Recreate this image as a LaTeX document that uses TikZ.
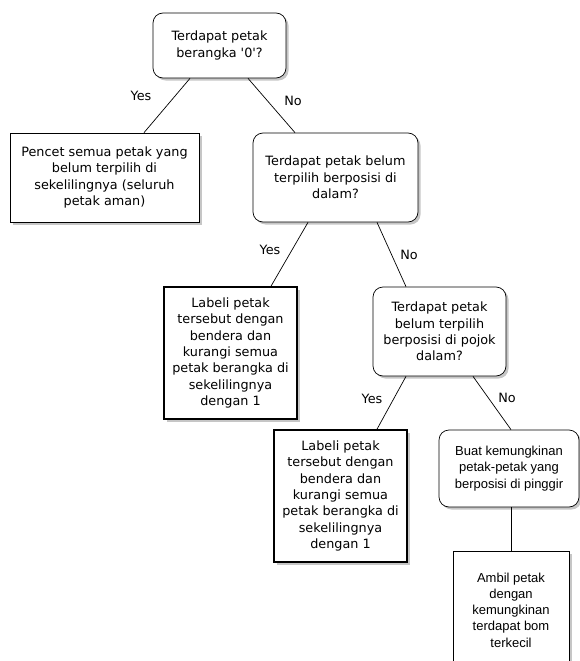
\documentclass[tikz,border=0pt]{standalone}
\usepackage{fontspec}
\setmainfont{DejaVu Sans}
\newfontfamily\arialfont{Liberation Sans}
\usetikzlibrary{calc,shadows}

\tikzset{
  shade box/.style={drop shadow={opacity=0.45,shadow xshift=2.5pt,shadow yshift=-2.5pt}},
  choice/.style={draw,rounded corners=10pt,fill=white,shade box,align=center,inner sep=2pt},
  action/.style={draw,fill=white,shade box,align=center,inner sep=2pt},
  mark box/.style={action,line width=1.6pt},
  arial text/.style={font=\arialfont\fontsize{13}{16.3}\selectfont}
}

\begin{document}
\begin{tikzpicture}[x=1pt,y=-1pt,font=\fontsize{12.8}{16.3}\selectfont,line width=0.7pt]
\useasboundingbox (0,0) rectangle (580,661);
\clip (0,0) rectangle (580,661);

% decisions
\node[choice,minimum width=133pt,minimum height=65pt] (zero) at (219.5,45.5) {Terdapat petak\\berangka \textquotesingle 0\textquotesingle ?};
\node[choice,minimum width=165pt,minimum height=89pt] (inner) at (335.5,177.5) {Terdapat petak belum\\terpilih berposisi di\\dalam?};
\node[choice,minimum width=133pt,minimum height=89pt] (corner) at (439.5,331.5) {Terdapat petak\\belum terpilih\\berposisi di pojok\\dalam?};
\node[choice,minimum width=140pt,minimum height=77pt,arial text] (edge) at (509,468.5) {Buat kemungkinan\\petak-petak yang\\berposisi di pinggir};

% actions
\node[action,minimum width=189pt,minimum height=89pt] (press) at (104.5,177.5) {Pencet semua petak yang\\belum terpilih di\\sekelilingnya (seluruh\\petak aman)};
\node[mark box,minimum width=133pt,minimum height=132pt] (flagA) at (230.5,353) {Labeli petak\\tersebut dengan\\bendera dan\\kurangi semua\\petak berangka di\\sekelilingnya\\dengan 1};
\node[mark box,minimum width=133pt,minimum height=132pt] (flagB) at (340.5,496) {Labeli petak\\tersebut dengan\\bendera dan\\kurangi semua\\petak berangka di\\sekelilingnya\\dengan 1};
\node[action,minimum width=116pt,minimum height=118pt,arial text] (pick) at (511,610) {Ambil petak\\dengan\\kemungkinan\\terdapat bom\\terkecil};

% connectors
\draw ([xshift=-29.5pt]zero.south) -- ([xshift=39.5pt]press.north);
\draw ([xshift=28.5pt]zero.south) -- ([xshift=-40.5pt]inner.north);
\draw ([xshift=-27.5pt]inner.south) -- ([xshift=40.5pt]flagA.north);
\draw ([xshift=41.5pt]inner.south) -- ([xshift=-33.5pt]corner.north);
\draw ([xshift=-33.5pt]corner.south) -- ([xshift=36.5pt]flagB.north);
\draw ([xshift=33.5pt]corner.south) -- ([xshift=2pt]edge.north);
\draw (pick.north |- edge.south) -- (pick.north);

% answers
\node (y1) at (141,96) {Yes};
\node (n1) at (293,101) {No};
\node (y2) at (270,250) {Yes};
\node (n2) at (409,255) {No};
\node (y3) at (372,399) {Yes};
\node (n3) at (507,398) {No};
\end{tikzpicture}
\end{document}
